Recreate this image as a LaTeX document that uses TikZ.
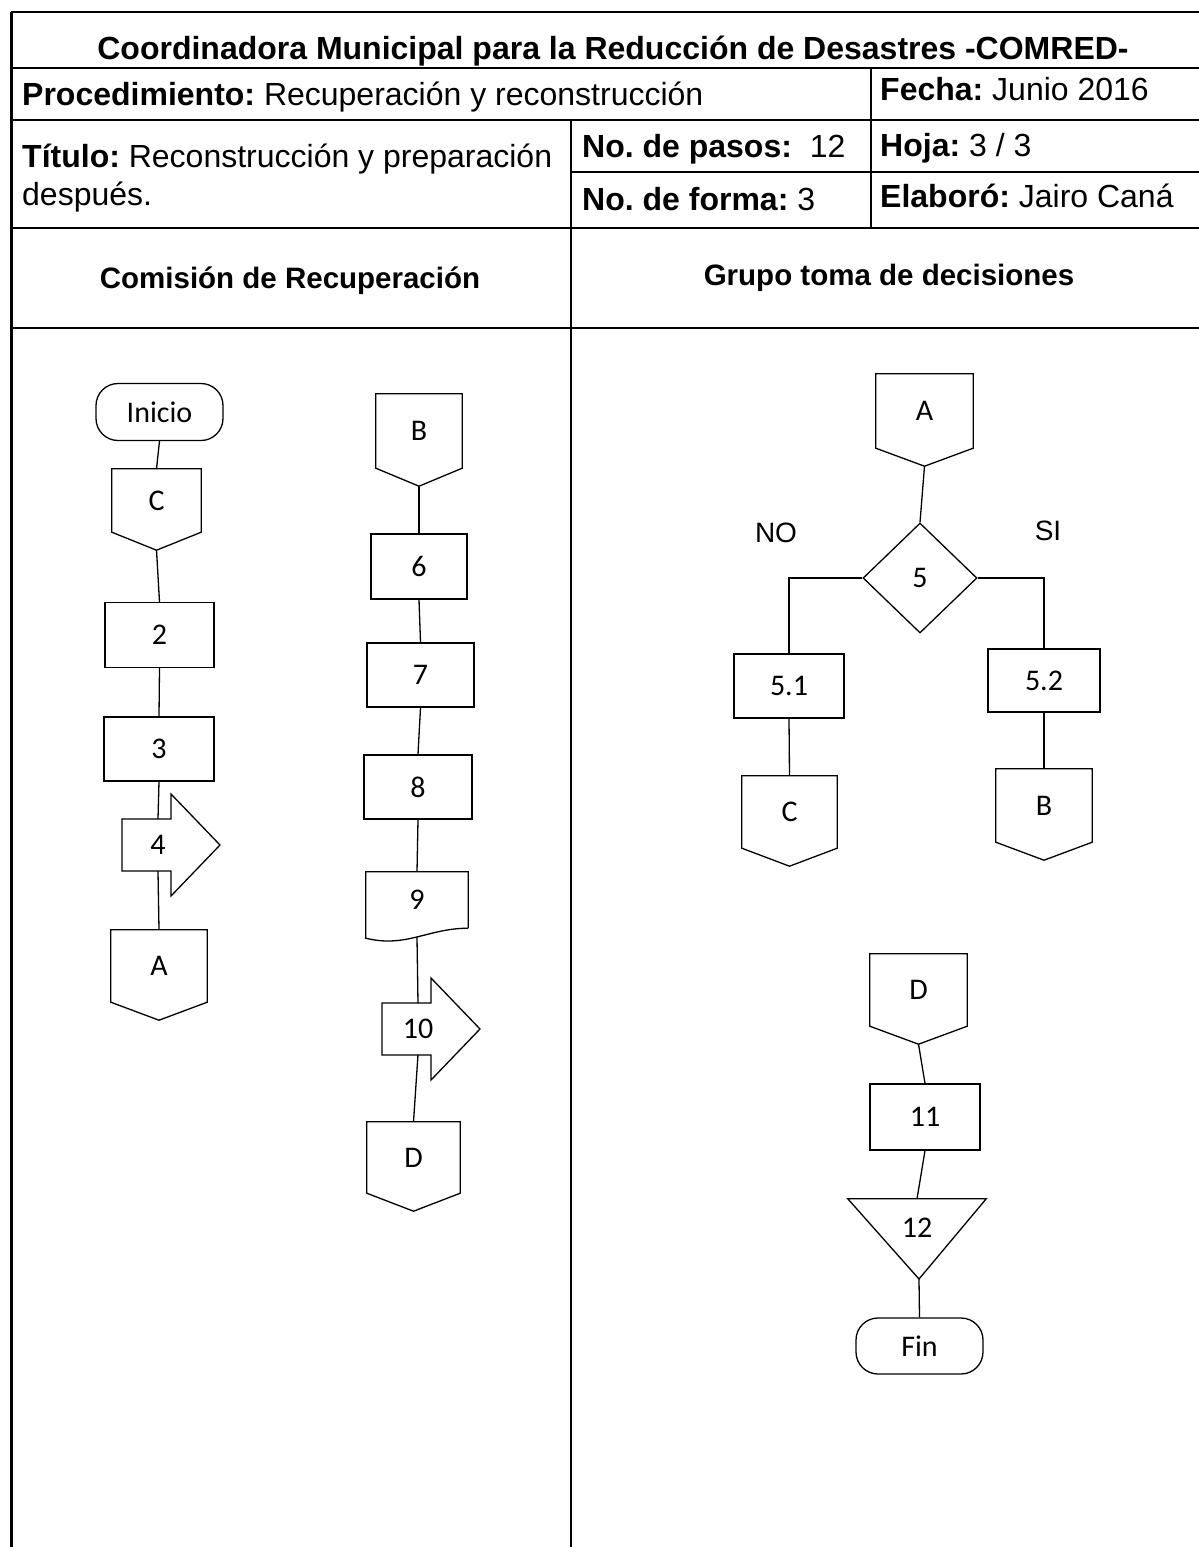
\documentclass[tikz,border=0pt]{standalone}
\usepackage{fontspec}
\setmainfont{Liberation Sans}
\newfontfamily\cali{Carlito}
\usetikzlibrary{shapes.geometric}
\frenchspacing

\tikzset{
  linea/.style={line width=2.4pt},
  txt/.style={anchor=base west, inner sep=0pt, font=\fontsize{32}{38}\selectfont},
  flujo/.style={line width=1.3pt},
  paso/.style={draw, flujo, inner sep=0pt, minimum width=109pt, minimum height=65pt, font=\cali\fontsize{30}{36}\selectfont},
  term/.style={paso, rounded corners=22pt, minimum width=127pt, minimum height=57pt},
  conec/.style={inner sep=0pt, font=\cali\fontsize{30}{36}\selectfont},
  decision/.style={draw, diamond, flujo, inner sep=0pt, minimum width=114pt, minimum height=110pt, font=\cali\fontsize{30}{36}\selectfont},
  rama/.style={inner sep=0pt, font=\fontsize{28}{34}\selectfont}
}

\begin{document}
\begin{tikzpicture}[x=1pt,y=-1pt]
\useasboundingbox (0,0) rectangle (1199,1547);

% encabezado
\draw[linea] (11,12) -- (1199,12);
\draw[linea] (11,68) -- (1199,68);
\draw[linea] (11,120) -- (1199,120);
\draw[linea] (571,172) -- (1199,172);
\draw[linea] (11,228) -- (1199,228);
\draw[linea] (11,328) -- (1199,328);
\draw[line width=3pt] (11,12) -- (11,1547);
\draw[linea] (571,120) -- (571,1547);
\draw[linea] (871,68) -- (871,228);

\node[txt, anchor=base] (titulo) at (613,59) {\textbf{Coordinadora Municipal para la Reducción de Desastres -COMRED-}};
\node[txt] (proc) at (22,105) {\textbf{Procedimiento:} Recuperación y reconstrucción};
\node[txt] (fecha) at (880,100) {\textbf{Fecha:} Junio 2016};
\node[txt] (tit1) at (22,167) {\textbf{Título:} Reconstrucción y preparación};
\node[txt] (tit2) at (22,205) {después.};
\node[txt] (pasos) at (582,157) {\textbf{No. de pasos:}\ \ 12};
\node[txt] (hoja) at (880,156) {\textbf{Hoja:} 3 / 3};
\node[txt] (forma) at (582,210) {\textbf{No. de forma:} 3};
\node[txt] (elab) at (880,207) {\textbf{Elaboró:} Jairo Caná};
\node[txt, anchor=base, font=\bfseries\fontsize{29.5}{35}\selectfont] (comision) at (290,288) {Comisión de Recuperación};
\node[txt, anchor=base, font=\bfseries\fontsize{29.5}{35}\selectfont] (grupo) at (889,285) {Grupo toma de decisiones};

% comision de recuperacion
\node[term] (inicio) at (159.5,412) {Inicio};
\node[conec, minimum width=89pt, minimum height=63pt] (oC1) at (156.5,500.5) {C};
\node[paso] (s2) at (159.5,635) {2};
\node[paso, minimum width=110pt, minimum height=64pt] (s3) at (159,749) {3};
\node[conec, minimum width=72pt, minimum height=52pt] (s4) at (158,845) {4};
\node[conec, minimum width=96pt, minimum height=72pt] (oA1) at (159,966) {A};

\node[conec, minimum width=86pt, minimum height=74pt] (oB1) at (419,431) {B};
\node[paso, minimum width=96pt] (s6) at (419,566.5) {6};
\node[paso, minimum width=107pt, minimum height=64pt] (s7) at (420.5,675) {7};
\node[paso, minimum width=108pt, minimum height=64pt] (s8) at (418,787) {8};
\node[conec, minimum width=102pt, minimum height=56pt] (s9) at (417,900) {9};
\node[conec, minimum width=72pt, minimum height=51pt] (s10) at (418,1029) {10};
\node[conec, minimum width=93pt, minimum height=71pt] (oD1) at (413.5,1157.5) {D};

% grupo toma de decisiones
\node[conec, minimum width=97pt, minimum height=74pt] (oA2) at (924.5,411) {A};
\node[decision] (s5) at (920,578) {5};
\node[rama] (no) at (776,533) {NO};
\node[rama] (si) at (1048,531) {SI};
\node[paso, minimum width=110pt, minimum height=64pt] (s51) at (789,686) {5.1};
\node[paso, minimum width=112pt, minimum height=63pt] (s52) at (1044,680.5) {5.2};
\node[conec, minimum width=95pt, minimum height=72pt] (oC2) at (789.5,812) {C};
\node[conec, minimum width=96pt, minimum height=73pt] (oB2) at (1044,805.5) {B};

\node[conec, minimum width=97pt, minimum height=72pt] (oD2) at (918.5,990) {D};
\node[paso, minimum width=110pt, minimum height=66pt] (s11) at (925,1117) {11};
\node[conec, minimum width=138pt, minimum height=58pt] (s12) at (917,1228) {12};
\coordinate (t12) at (919,1279);
\node[term, minimum height=56pt] (fin) at (919.5,1346) {Fin};

% figuras
\foreach \n in {oC1,oA1,oB1,oD1,oA2,oC2,oB2,oD2}{
  \coordinate (\n-p) at ([yshift=-18pt]\n.south);
  \draw[flujo] (\n.north west) -- (\n.north east) -- (\n.south east) -- (\n-p) -- (\n.south west) -- cycle;
}
\foreach \n in {s4,s10}
  \draw[flujo, shift={(\n.center)}] (-36,-26) -- (13,-26) -- (13,-51) -- (62,0) -- (13,51) -- (13,26) -- (-36,26) -- cycle;
\draw[flujo] (s9.south east) -- (s9.north east) -- (s9.north west) -- ([yshift=-10pt]s9.south west) .. controls +(40,10) and +(-40,0) .. (s9.south east);
\coordinate (s9-b) at ([yshift=-9pt]s9.south);
\draw[flujo] (s12.north west) -- (s12.north east) -- (t12) -- cycle;

% conectores
\draw[flujo] (inicio.south) -- (oC1.north);
\draw[flujo] (oC1-p) -- (s2.north);
\draw[flujo] (s2.south) -- (s3.north);
\draw[flujo] (s3.south) -- (s4.north);
\draw[flujo] (s4.south) -- (oA1.north);
\draw[flujo] (oB1-p) -- (s6.north);
\draw[flujo] (s6.south) -- (s7.north);
\draw[flujo] (s7.south) -- (s8.north);
\draw[flujo] (s8.south) -- (s9.north);
\draw[flujo] (s9-b) -- (s10.north);
\draw[flujo] (s10.south) -- (oD1.north);
\draw[flujo] (oA2-p) -- (s5.north);
\draw[flujo] (s5.west) -| (s51.north);
\draw[flujo] (s5.east) -| (s52.north);
\draw[flujo] (s51.south) -- (oC2.north);
\draw[flujo] (s52.south) -- (oB2.north);
\draw[flujo] (oD2-p) -- (s11.north);
\draw[flujo] (s11.south) -- (s12.north);
\draw[flujo] (t12) -- (fin.north);
\end{tikzpicture}
\end{document}
